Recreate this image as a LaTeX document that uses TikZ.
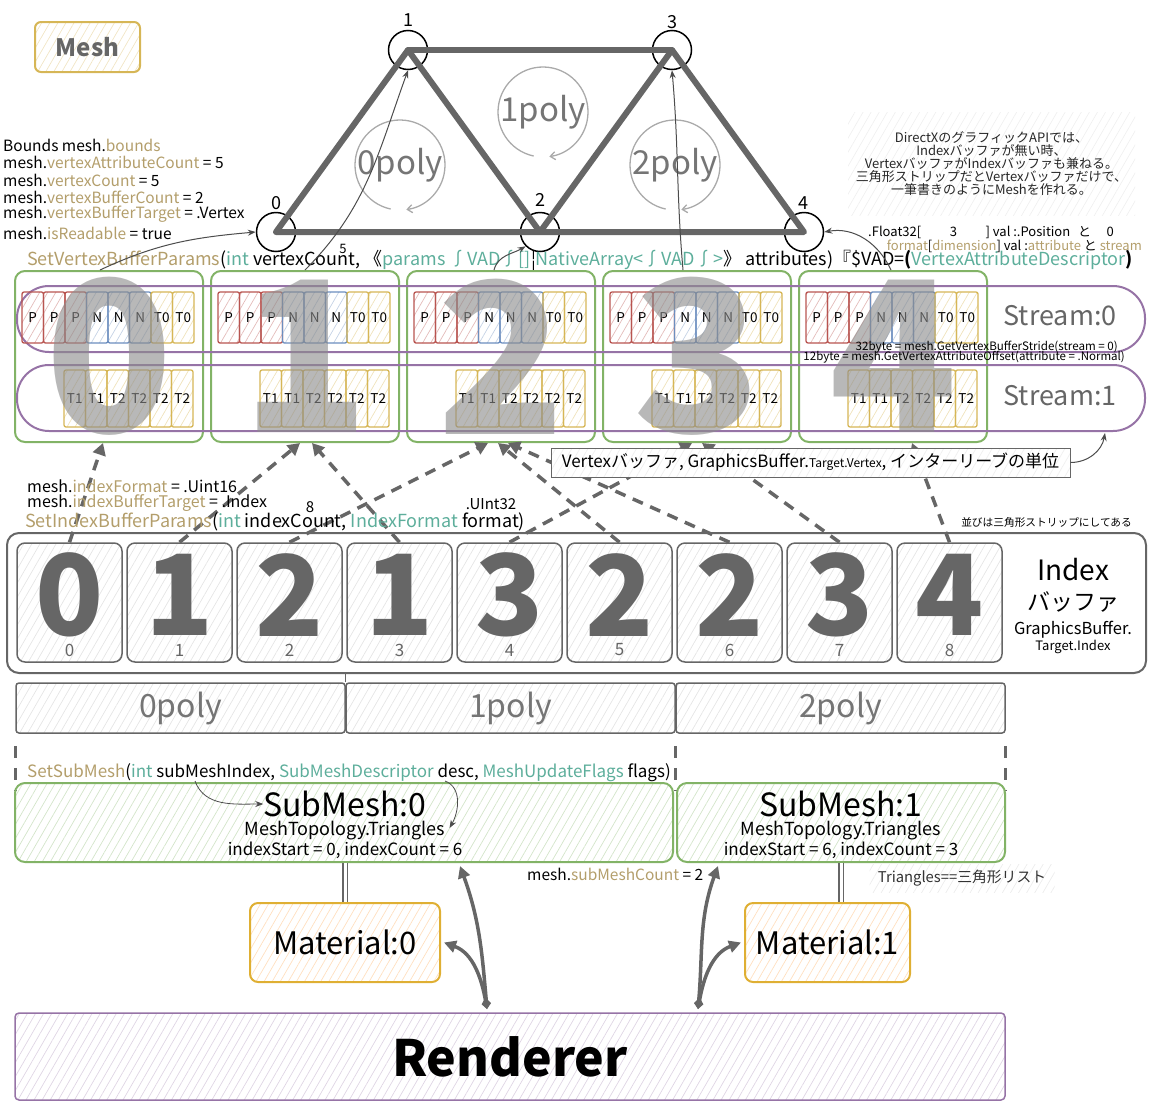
\documentclass[tikz,border=0pt]{standalone}
\usepackage{fontspec}
\setmainfont{Noto Sans CJK JP}
\usetikzlibrary{positioning,patterns.meta,arrows.meta}
\definecolor{gry}{HTML}{666666}
\definecolor{lgry}{HTML}{AAAAAA}
\definecolor{mgold}{HTML}{B39E6B}
\definecolor{mteal}{HTML}{5DAE9B}
\definecolor{grn}{HTML}{82B366}
\definecolor{prp}{HTML}{9673A6}
\definecolor{rd}{HTML}{B85450}
\definecolor{bl}{HTML}{6C8EBF}
\definecolor{yl}{HTML}{D6B656}
\definecolor{org}{HTML}{D79B00}
\newcommand\fsz[1]{\fontsize{#1}{#1}\selectfont}
\newcommand\gk[1]{\textcolor{mgold}{#1}}
\newcommand\tk[1]{\textcolor{mteal}{#1}}

\begin{document}
\begin{tikzpicture}[x=1pt,y=1pt,
    hatch/.style={pattern={Lines[angle=60,distance=7pt,line width=0.7pt]},pattern color=#1},
    vtx/.style={circle,draw,line width=1.5pt,minimum size=39pt,inner sep=0pt},
    edg/.style={line width=6pt,draw=gry,line cap=round,line join=round},
    vnum/.style={font=\fsz{18},inner sep=0pt},
    polytxt/.style={font=\fsz{33},text=gry!90,inner sep=0pt},
    polyarr/.style={lgry,line width=1.3pt,-{Straight Barb[length=5pt,width=8pt]}},
    txt/.style={font=\fsz{15.5},inner sep=0pt,anchor=west},
    thinarr/.style={black!70,line width=1pt,-{Stealth[length=8pt,width=6pt]}},
    vblock/.style={draw=grn,line width=2pt,rounded corners=10pt,minimum width=188pt,minimum height=171pt},
    stream/.style={draw=prp,line width=2pt,rounded corners=32pt,minimum width=1128pt,minimum height=66pt},
    cell/.style={draw=#1,line width=1.3pt,rounded corners=2pt,minimum width=21.5pt,minimum height=51pt,
      inner sep=0pt,font=\fsz{13.5},hatch=#1!40},
    bigdig/.style={font=\fsz{210}\bfseries,text=black!45,text opacity=0.62,inner sep=0pt},
    idxcell/.style={draw=gry,line width=1.5pt,rounded corners=8pt,minimum width=105pt,minimum height=119pt,hatch=gray!20},
    idxdig/.style={font=\fsz{112}\bfseries,text=gry,inner sep=0pt},
    idxnum/.style={font=\fsz{17},text=gry,inner sep=0pt},
    dasharr/.style={gry,line width=3.5pt,dash pattern=on 11pt off 8pt,-{Triangle[length=12pt,width=13pt]}},
    polybar/.style={draw=gry,line width=1.5pt,rounded corners=3pt,minimum width=329pt,minimum height=50pt,
      hatch=gray!20,font=\fsz{32},text=gry!90},
    subbox/.style={draw=grn,line width=2pt,rounded corners=10pt,minimum height=79pt,hatch=grn!35},
    matbox/.style={draw=org!80,line width=2pt,rounded corners=8pt,minimum height=79pt,hatch=orange!25,font=\fsz{31}},
    rarr/.style={gry,line width=3.5pt,{Diamond[length=11pt,width=9pt]}-{Triangle[length=12pt,width=12pt]}},
    dbl/.style={gry,line width=1.5pt,double=white,double distance=3pt}]
\useasboundingbox (0,0) rectangle (1155,-1103);

% mesh label
\node[draw=yl,line width=2pt,rounded corners=6pt,minimum width=105pt,minimum height=50pt,hatch=yl!35,
  font=\fsz{24}\bfseries,text=gry] (mesh) at (87.5,-47) {Mesh};

% triangle strip
\path
  (276,-232) node[vtx] (v0) {}
  (408,-50) node[vtx] (v1) {}
  (540,-232) node[vtx] (v2) {}
  (672,-50) node[vtx] (v3) {}
  (804,-232) node[vtx] (v4) {}
  (276,-203) node[vnum] (n0) {0}
  (408,-20) node[vnum] (n1) {1}
  (540,-200) node[vnum] (n2) {2}
  (672,-22) node[vnum] (n3) {3}
  (803,-203) node[vnum] (n4) {4};
\draw[edg] (v0.center) -- (v1.center) -- (v2.center) -- (v3.center) -- (v4.center) -- (v2.center) -- (v0.center);
\draw[edg] (v1.center) -- (v3.center);

\path
  (400,-165) node[polytxt] (p0) {0poly}
  (543,-112) node[polytxt] (p1) {1poly}
  (675,-165) node[polytxt] (p2) {2poly};
\foreach \p in {p0,p1,p2}
  \draw[polyarr] ([shift={(258:45)}]\p.center) arc[start angle=258,end angle=-82,radius=45];

% mesh properties
\path
  (3,-145) node[txt] (m0) {Bounds mesh.\gk{bounds}}
  (3,-162) node[txt] (m1) {mesh.\gk{vertexAttributeCount} = 5}
  (3,-180) node[txt] (m2) {mesh.\gk{vertexCount} = 5}
  (3,-197) node[txt] (m3) {mesh.\gk{vertexBufferCount} = 2}
  (3,-214) node[txt] (m4) {mesh.\gk{vertexBufferTarget} = .Vertex}
  (3,-233) node[txt] (m5) {mesh.\gk{isReadable} = true};

\node[inner sep=0pt,font=\fsz{13},anchor=west] (fl) at (868,-232) {.Float32[\hspace{2.2em}3\hspace{2.2em}] val :.Position\hspace{0.6em}と\hspace{1.2em}0};
\node[inner sep=0pt,font=\fsz{13},anchor=east] (fm) at (1142,-246) {\gk{format}[\gk{dimension}] val :\gk{attribute} と \gk{stream}};
\node[txt,font=\fsz{18}] (svb) at (27,-260) {\gk{SetVertexBufferParams}(\tk{int} vertexCount, 《\tk{params ∫VAD∫[]}¦\tk{NativeArray<∫VAD∫>}》 attributes)『\$VAD=\textbf{(}\tk{VertexAttributeDescriptor}\textbf{)}};

% vertex buffer
\foreach \b in {0,...,4}
  \node[vblock] (blk\b) at (109+196*\b,-356.5) {};
\node[stream] (s0) at (581,-319) {};
\node[stream] (s1) at (581,-398) {};
\foreach \b in {0,...,4}{
  \foreach \i/\t/\c in {0/P/rd,1/P/rd,2/P/rd,3/N/bl,4/N/bl,5/N/bl,6/T0/yl,7/T0/yl}
    \node[cell=\c] (a\b\i) at (15+196*\b+17.75+21.5*\i,-317.5) {\t};
  \foreach \i/\t in {0/T1,1/T1,2/T2,3/T2,4/T2,5/T2}
    \node[cell=yl,minimum height=57pt] (t\b\i) at (15+196*\b+59.75+21.5*\i,-398.5) {\t};
  \node[bigdig] (d\b) at (blk\b) {\b};
}
\node[font=\fsz{27},text=gry] (sl0) at (1060,-316) {Stream:0};
\node[font=\fsz{27},text=gry] (sl1) at (1060,-396) {Stream:1};
\node[inner sep=0pt,font=\fsz{11.6},anchor=east] (st0) at (1118,-347) {32byte = mesh.GetVertexBufferStride(stream = 0)};
\node[inner sep=0pt,font=\fsz{11.5},anchor=east] (st1) at (1125,-357) {12byte = mesh.GetVertexAttributeOffset(attribute = .Normal)};

% vertices <- buffer
\draw[thinarr] ([xshift=-9pt]blk0.north) to[out=25,in=185] (v0.west);
\draw[thinarr] (blk1.north) to[out=45,in=-110] (v1.south);
\node[inner sep=0pt,font=\fsz{13}] (c5) at (343,-249) {5};
\draw[thinarr] ([xshift=-7pt]blk2.north) to[out=75,in=-150] (v2.south west);
\draw[thinarr] ([xshift=-14pt]blk3.north) to[out=95,in=-85] (v3.south);
\draw[thinarr] ([xshift=-2pt]blk4.north) to[out=115,in=10] (v4.east);

% index buffer
\node[draw=gry,line width=2pt,rounded corners=12pt,minimum width=1139pt,minimum height=140pt] (ibuf) at (576.5,-603) {};
\foreach \v [count=\i from 0] in {0,1,2,1,3,2,2,3,4}{
  \node[idxcell] (ic\i) at (69.5+110*\i,-602.5) {};
  \node[idxdig] (id\i) at (69.5+110*\i,-595) {\v};
  \node[idxnum] (in\i) at (69.5+110*\i,-650) {\i};
}
\node[inner sep=0pt,font=\fsz{28}] (il0) at (1073,-570) {Index};
\node[inner sep=0pt,font=\fsz{23}] (il1) at (1073,-602) {バッファ};
\node[inner sep=0pt,font=\fsz{16.5}] (il2) at (1073,-630) {GraphicsBuffer.};
\node[inner sep=0pt,font=\fsz{13}] (il3) at (1073,-647) {Target.Index};

\foreach \i/\j/\dx in {0/0/-6,1/1/-5,2/2/-13,3/1/7,4/3/-5,5/2/-3,6/2/7,7/3/5,8/4/19}
  \draw[dasharr] (ic\i.north) -- ([xshift=\dx pt]blk\j.south);

\node[draw=gry,line width=1pt,preaction={fill=white},hatch=gray!12,minimum width=519pt,minimum height=29pt,
  inner sep=0pt,font=\fsz{17}] (vnote) at (810.5,-462.5) {Vertexバッファ, GraphicsBuffer.{\fsz{12}Target.Vertex}, インターリーブの単位};
\draw[thinarr] (vnote.east) to[out=0,in=-100] (1105,-433);

\path
  (27,-486) node[txt,font=\fsz{16}] (x0) {mesh.\gk{indexFormat} = .Uint16}
  (27,-503) node[txt,font=\fsz{16}] (x1) {mesh.\gk{indexBufferTarget} = .Index}
  (25,-522) node[txt,font=\fsz{18}] (sib) {\gk{SetIndexBufferParams}(\tk{int} indexCount, \tk{IndexFormat} format)}
  (310,-507) node[inner sep=0pt,font=\fsz{15}] (c8) {8}
  (491,-504) node[inner sep=0pt,font=\fsz{15}] (u32) {.UInt32}
  (1132,-522) node[inner sep=0pt,font=\fsz{10.7},anchor=east] (strip) {並びは三角形ストリップにしてある};

% polygons
\node[polybar] (pb0) at (180.5,-708) {0poly};
\node[polybar] (pb1) at (510.5,-708) {1poly};
\node[polybar] (pb2) at (840.5,-708) {2poly};
\draw[gry,line width=1pt] (pb0.north east) -- ++(0,10);
\foreach \c in {pb0.south west,pb2.south west,pb2.south east}
  \draw[gry,line width=3pt,dash pattern=on 12pt off 10pt] ([yshift=-12pt]\c) -- ++(0,-45);

% submeshes
\node[txt,font=\fsz{17}] (ssm) at (27,-773) {\gk{SetSubMesh}(\tk{int} subMeshIndex, \tk{SubMeshDescriptor} desc, \tk{MeshUpdateFlags} flags)};
\node[subbox,minimum width=658pt] (sm0) at (344,-822.5) {};
\node[subbox,minimum width=328pt] (sm1) at (841,-822.5) {};
\path
  (345,-804) node[inner sep=0pt,font=\fsz{32}] (sn0) {SubMesh:0}
  (345,-831) node[inner sep=0pt,font=\fsz{18}] (mt0) {MeshTopology.Triangles}
  (345,-850) node[inner sep=0pt,font=\fsz{17}] (ix0) {indexStart = 0, indexCount = 6}
  (841,-804) node[inner sep=0pt,font=\fsz{32}] (sn1) {SubMesh:1}
  (841,-831) node[inner sep=0pt,font=\fsz{18}] (mt1) {MeshTopology.Triangles}
  (841,-850) node[inner sep=0pt,font=\fsz{17}] (ix1) {indexStart = 6, indexCount = 3};
\coordinate (smi) at (195,-781);
\coordinate (dsc) at (445,-781);
\draw[thinarr,line width=0.8pt] (smi) to[out=-70,in=180] (sn0.west);
\draw[thinarr,line width=0.8pt] (dsc) to[out=-20,in=60] ([xshift=4pt,yshift=3pt]mt0.east);

\node[txt] (smc) at (527,-874) {mesh.\gk{subMeshCount} = 2};
\node[hatch=gray!15,minimum width=185pt,minimum height=28pt,inner sep=0pt,font=\fsz{14.8},text=black!80] (tri) at (962,-878) {Triangles==三角形リスト};

% materials and renderer
\node[matbox,minimum width=190pt] (mat0) at (345,-942.5) {Material:0};
\node[matbox,minimum width=165pt] (mat1) at (827.5,-942.5) {Material:1};
\draw[dbl] (mat0.north |- sm0.south) -- (mat0.north);
\draw[dbl] (sm1.south) -- (sm1.south |- mat1.north);

\node[draw=prp,line width=1.5pt,rounded corners=4pt,minimum width=990pt,minimum height=87pt,hatch=prp!30,
  font=\fsz{50}\bfseries] (rend) at (510,-1056.5) {Renderer};
\coordinate (r0) at (487,-1009);
\coordinate (r1) at (698,-1009);
\draw[rarr] (r0) to[out=95,in=-70] ([xshift=116pt,yshift=-3pt]sm0.south);
\draw[rarr] (r0) to[out=100,in=-20] ([xshift=3pt]mat0.east);
\draw[rarr] (r1) to[out=85,in=-110] ([xshift=-123pt,yshift=-3pt]sm1.south);
\draw[rarr] (r1) to[out=80,in=200] ([xshift=-3pt]mat1.west);

% note
\node[hatch=gray!12,minimum width=287pt,minimum height=103pt,align=center,font=\fsz{13},
  text=black!85] (dx) at (991.5,-163.5) {DirectXのグラフィックAPIでは、\\Indexバッファが無い時、\\VertexバッファがIndexバッファも兼ねる。\\三角形ストリップだとVertexバッファだけで、\\一筆書きのようにMeshを作れる。};
\end{tikzpicture}
\end{document}
